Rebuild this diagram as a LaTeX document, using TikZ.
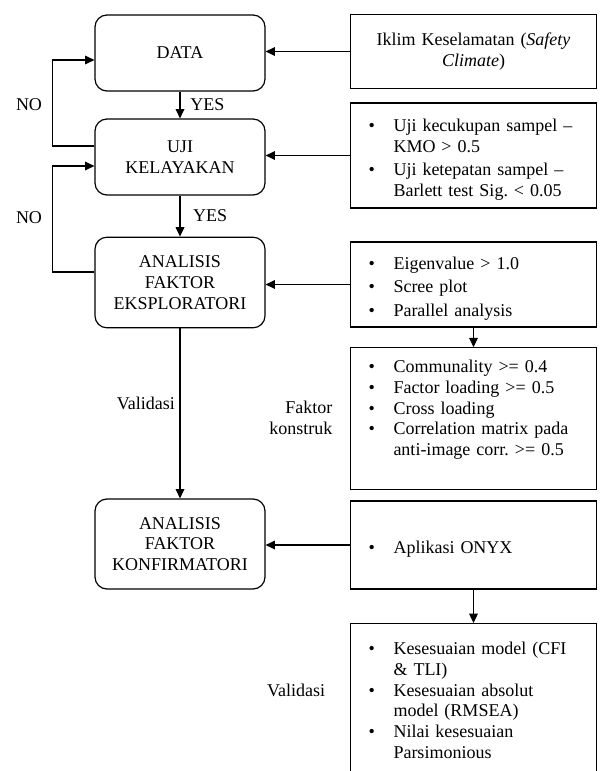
\documentclass[tikz,border=0pt]{standalone}
\usepackage{fontspec}
\setmainfont{Liberation Serif}
\usepackage{enumitem}
\setlist[itemize]{label=\textbullet, leftmargin=26pt, labelsep=14pt, itemsep=2pt, topsep=0pt, parsep=0pt, partopsep=0pt}
\usetikzlibrary{arrows.meta,calc}

\tikzset{
	proses/.style={draw, rounded corners=9pt, line width=0.9pt, minimum width=127.5pt, align=center, font=\fontsize{13.5}{15.5}\selectfont},
	kriteria/.style={draw, line width=0.9pt, text width=172pt, inner xsep=6pt, align=left, font=\fontsize{13.5}{15.5}\selectfont},
	ket/.style={align=center, font=\fontsize{13.5}{15.5}\selectfont},
	panah/.style={-{Triangle[length=7pt,width=6.5pt]}, line width=0.9pt}
}

\begin{document}
\begin{tikzpicture}[x=0.75pt, y=0.75pt]
	\useasboundingbox (0,0) rectangle (601,-771);
	\clip (0,0) rectangle (601,-771);

	\node[proses, minimum height=57pt] (data) at (180,-53) {DATA};
	\node[proses, minimum height=57pt] (uji) at (180,-157) {UJI\\KELAYAKAN};
	\node[proses, minimum height=68pt] (efa) at (180,-282.5) {ANALISIS\\FAKTOR\\EKSPLORATORI};
	\node[proses, minimum height=67.5pt] (cfa) at (180,-544) {ANALISIS\\FAKTOR\\KONFIRMATORI};

	\node[kriteria, align=center, minimum height=56pt] (iklim) at (473.5,-51.5) {Iklim Keselamatan (\textit{Safety}\\\textit{Climate})};
	\node[kriteria, minimum height=78.75pt] (kmo) at (473.5,-155.5) {
		\begin{itemize}
			\item Uji kecukupan sampel --\newline KMO > 0.5
			\item Uji ketepatan sampel --\newline Barlett test Sig.\ < 0.05
		\end{itemize}};
	\node[kriteria, minimum height=63.75pt] (eigen) at (473.5,-284.5) {
		\begin{itemize}
			\item Eigenvalue > 1.0
			\item Scree plot
			\item Parallel analysis
		\end{itemize}};
	\node[kriteria, minimum height=99.75pt] (komunal) at (473.5,-418.5) {
		\begin{itemize}[itemsep=0pt]
			\item Communality >= 0.4
			\item Factor loading >= 0.5
			\item Cross loading
			\item Correlation matrix pada\newline anti-image corr.\ >= 0.5
		\end{itemize}\par\rule{0pt}{18pt}};
	\node[kriteria, minimum height=66pt] (onyx) at (473.5,-545) {
		\begin{itemize}
			\item Aplikasi ONYX
		\end{itemize}};
	\node[kriteria, anchor=north, minimum height=140pt] (fit) at (473.5,-623) {
		\begin{itemize}[itemsep=0pt]
			\item Kesesuaian model (CFI\newline \& TLI)
			\item Kesesuaian absolut\newline model (RMSEA)
			\item Nilai kesesuaian\newline Parsimonious
		\end{itemize}\par\rule{0pt}{30pt}};

	\node[ket] (no1) at (29,-105) {NO};
	\node[ket] (no2) at (29,-218) {NO};
	\node[ket, align=right, anchor=east] (konstruk) at (337,-418) {Faktor\\konstruk};
	\node[ket] (val2) at (296,-690) {Validasi};

	\draw[panah] (iklim.west) -- (iklim.west -| data.east);
	\draw[panah] (kmo.west) -- (kmo.west -| uji.east);
	\draw[panah] (eigen.west) -- (eigen.west -| efa.east);
	\draw[panah] (onyx.west) -- (onyx.west -| cfa.east);
	\draw[panah] (data) -- node[ket, right, xshift=4pt] (yes1) {YES} (uji);
	\draw[panah] (uji) -- node[ket, right, xshift=6pt] (yes2) {YES} (efa);
	\draw[panah] (efa) -- node[ket, left, pos=0.44] (val1) {Validasi} (cfa);
	\draw[panah] (eigen) -- (komunal);
	\draw[panah] (onyx) -- (fit);
	\draw[panah] ($(uji.west)+(0,11)$) -- ++(-42,0) |- ($(data.west)+(0,-7)$);
	\draw[panah] ($(efa.west)+(0,10.5)$) -- ++(-42,0) |- ($(uji.west)+(0,-9)$);

\end{tikzpicture}
\end{document}
